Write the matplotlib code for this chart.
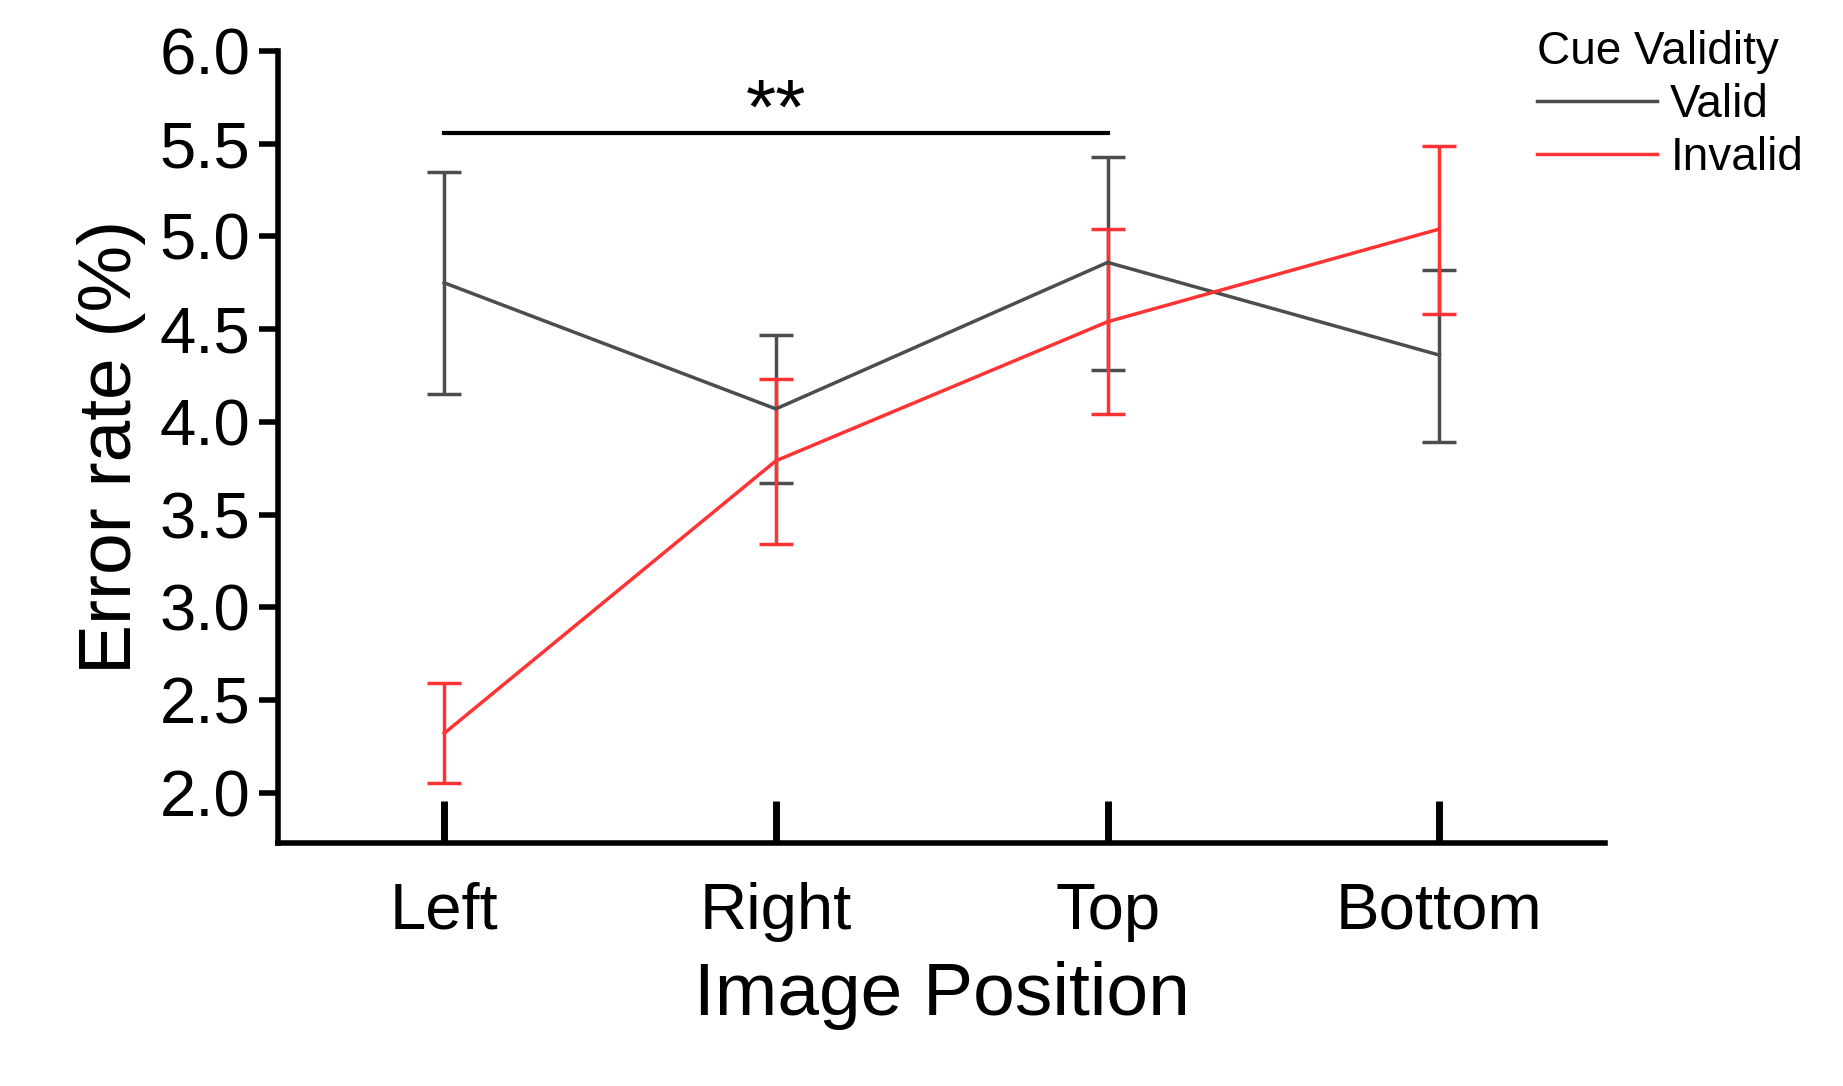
import matplotlib
matplotlib.use("Agg")
import matplotlib.pyplot as plt
from matplotlib.lines import Line2D

plt.rcParams['font.family'] = ['Liberation Sans', 'DejaVu Sans']

positions = ["Left", "Right", "Top", "Bottom"]
valid = [4.75, 4.07, 4.86, 4.36]
valid_lo = [4.15, 3.67, 4.28, 3.89]
valid_hi = [5.35, 4.47, 5.43, 4.82]
invalid = [2.32, 3.79, 4.54, 5.04]
invalid_lo = [2.05, 3.34, 4.04, 4.58]
invalid_hi = [2.59, 4.23, 5.04, 5.49]

x = list(range(len(positions)))
fig = plt.figure(figsize=(18.43, 10.86), dpi=100)
ax = fig.add_axes([0.151, 0.224, 0.72, 0.729])

def err(v, lo, hi):
    return [[a - b for a, b in zip(v, lo)], [b - a for a, b in zip(v, hi)]]

ax.errorbar(x, valid, yerr=err(valid, valid_lo, valid_hi), color='#4d4d4d', lw=2.5,
            capsize=12, capthick=2.5, elinewidth=2.5)
ax.errorbar(x, invalid, yerr=err(invalid, invalid_lo, invalid_hi), color='#ff3333', lw=2.5,
            capsize=12, capthick=2.5, elinewidth=2.5)

# significance bar
ax.plot([0, 2], [5.56, 5.56], color='black', lw=3)
ax.text(1.0, 5.47, '**', ha='center', va='bottom', fontsize=56)

ax.set_xlim(-0.5, 3.5)
ax.set_ylim(1.73, 6.0)
ax.set_yticks([2.0, 2.5, 3.0, 3.5, 4.0, 4.5, 5.0, 5.5, 6.0])
ax.set_yticklabels(["%.1f" % v for v in ax.get_yticks()])
ax.set_xticks(x)
ax.set_xticklabels(positions)
ax.spines['top'].set_visible(False)
ax.spines['right'].set_visible(False)
ax.spines['left'].set_linewidth(4)
ax.spines['bottom'].set_linewidth(4)
ax.tick_params(axis='y', direction='out', length=14, width=4, labelsize=47, pad=6)
ax.tick_params(axis='x', direction='in', length=30, width=5, labelsize=47, pad=28)
ax.set_xlabel('Image Position', fontsize=54, labelpad=14)
ax.set_ylabel('Error rate (%)', fontsize=54, labelpad=10)

handles = [Line2D([], [], color='#4d4d4d', lw=2.5), Line2D([], [], color='#ff3333', lw=2.5)]
leg = ax.legend(handles, ['Valid', 'Invalid'], title='Cue Validity', loc='upper left',
                bbox_to_anchor=(0.935, 1.05), frameon=False, fontsize=33, title_fontsize=33,
                handlelength=2.6, handletextpad=0.3, labelspacing=0.2, borderaxespad=0)
leg._legend_box.align = 'left'

fig.savefig('out.png', dpi=100)
